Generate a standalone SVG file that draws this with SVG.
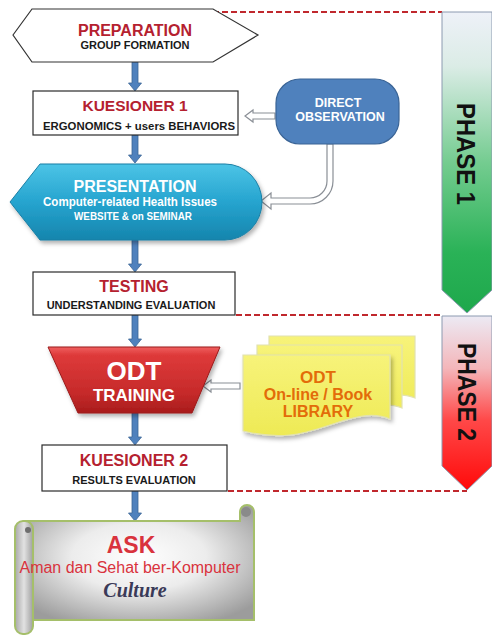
<svg xmlns="http://www.w3.org/2000/svg" width="492" height="637" viewBox="0 0 492 637">
<defs>
<style>
text{font-family:"Liberation Sans",Arial,sans-serif;font-weight:bold;text-anchor:middle}
.box{fill:#fff;stroke:#2b2b2b;stroke-width:1.2}
.red{fill:#b5212f}
.blk{fill:#1a1a1a}
.wht{fill:#fff}
.org{fill:#e36c09}
.barrow{fill:#4f81bd;stroke:#3a6496;stroke-width:0.8}
.harrow{fill:#fff;stroke:#8a8f96;stroke-width:1.2}
.dash{stroke:#c0282d;stroke-width:2;stroke-dasharray:6 3;fill:none}
.doc{fill:url(#gYel);stroke:#e2e2b0;stroke-width:1.2}
.phase{font-size:25px;fill:#111}
</style>
<linearGradient id="gP1" x1="0" y1="0" x2="0" y2="1">
<stop offset="0" stop-color="#eef1f8"/><stop offset="0.18" stop-color="#dbece6"/><stop offset="0.5" stop-color="#74cc90"/><stop offset="0.8" stop-color="#2ab257"/><stop offset="1" stop-color="#1ea84c"/>
</linearGradient>
<linearGradient id="gP2" x1="0" y1="0" x2="0" y2="1">
<stop offset="0" stop-color="#eceaf4"/><stop offset="0.3" stop-color="#f4b6ba"/><stop offset="0.6" stop-color="#ff4848"/><stop offset="1" stop-color="#ff0a0a"/>
</linearGradient>
<linearGradient id="gTeal" x1="0" y1="0" x2="0" y2="1">
<stop offset="0" stop-color="#4cc4e6"/><stop offset="0.5" stop-color="#26a4cf"/><stop offset="1" stop-color="#1585ad"/>
</linearGradient>
<linearGradient id="gRed" x1="0" y1="0" x2="0" y2="1">
<stop offset="0" stop-color="#f06060"/><stop offset="0.12" stop-color="#de3a3a"/><stop offset="0.7" stop-color="#c62a2a"/><stop offset="1" stop-color="#a81c1c"/>
</linearGradient>
<linearGradient id="gYel" x1="0" y1="0" x2="0" y2="1">
<stop offset="0" stop-color="#f7f37a"/><stop offset="1" stop-color="#eeea55"/>
</linearGradient>
<radialGradient id="gScroll" cx="0.5" cy="0.45" r="0.65">
<stop offset="0" stop-color="#ffffff"/><stop offset="0.45" stop-color="#ececec"/><stop offset="1" stop-color="#9c9c9c"/>
</radialGradient>
<linearGradient id="gRoll" x1="0" y1="0" x2="1" y2="0">
<stop offset="0" stop-color="#a8a8a8"/><stop offset="0.5" stop-color="#e2e2e2"/><stop offset="1" stop-color="#a0a0a0"/>
</linearGradient>
<filter id="sh" x="-10%" y="-10%" width="130%" height="130%">
<feDropShadow dx="2" dy="3" stdDeviation="2" flood-color="#000" flood-opacity="0.3"/>
</filter>
</defs>

<g id="dashes">
<line class="dash" x1="213" y1="12" x2="442" y2="12"/>
<line class="dash" x1="236" y1="315" x2="442" y2="315"/>
<line class="dash" x1="228" y1="491" x2="467" y2="491"/>
</g>

<g id="phase1">
<path d="M442,12 H492 V290 L467,313 L442,290 Z" fill="url(#gP1)" stroke="#8c9ab0" stroke-width="1"/>
<text class="phase" transform="translate(466,154) rotate(90)" dy="9" textLength="102" lengthAdjust="spacingAndGlyphs">PHASE 1</text>
</g>
<g id="phase2">
<path d="M442,316 H492 V466 L467,490 L442,466 Z" fill="url(#gP2)" stroke="#8c9ab0" stroke-width="1"/>
<text class="phase" transform="translate(467,392) rotate(90)" dy="9" textLength="98" lengthAdjust="spacingAndGlyphs">PHASE 2</text>
</g>

<g id="connectors">
<path class="barrow" d="M132,62 H138 V83 H141.5 L135,91 L128.5,83 H132 Z"/>
<path class="barrow" d="M132,135 H138 V155 H141.5 L135,163 L128.5,155 H132 Z"/>
<path class="barrow" d="M132,240 H138 V264 H141.5 L135,272 L128.5,264 H132 Z"/>
<path class="barrow" d="M132,315 H138 V339 H141.5 L135,347 L128.5,339 H132 Z"/>
<path class="barrow" d="M132,413 H138 V437 H141.5 L135,445 L128.5,437 H132 Z"/>
<path class="barrow" d="M132,491 H138 V513 H141.5 L135,521 L128.5,513 H132 Z"/>
<path class="harrow" d="M275,113 H253 V110 L245,116 L253,122 V119 H275 Z"/>
<path class="harrow" d="M333,144 V181 A23,23 0 0 1 310,204 H271 V209 L261,201 L271,193 V198 H310 A17,17 0 0 0 327,181 V144 Z"/>
<path class="harrow" d="M240,383 H211 V380 L203,386 L211,392 V389 H240 Z"/>
</g>

<g id="preparation">
<path d="M13,35 L32,9 H213 L258,35 L213,62 H32 Z" fill="#fff" stroke="#333" stroke-width="1.2"/>
<text class="red" x="135" y="36" font-size="16">PREPARATION</text>
<text class="blk" x="135" y="49" font-size="11">GROUP FORMATION</text>
</g>

<g id="kuesioner1">
<rect class="box" x="33" y="91" width="205" height="44"/>
<text class="red" x="135" y="111" font-size="15.5">KUESIONER 1</text>
<text class="blk" x="139" y="130" font-size="11" textLength="192" lengthAdjust="spacingAndGlyphs">ERGONOMICS + users BEHAVIORS</text>
</g>

<g id="direct-observation">
<rect x="276" y="79" width="123" height="65" rx="24" fill="#4f81bd" stroke="#3a6496" stroke-width="1.2"/>
<text class="wht" x="338" y="107" font-size="12.5">DIRECT</text>
<text class="wht" x="340" y="121" font-size="12.5">OBSERVATION</text>
</g>

<g id="presentation">
<path d="M10,202 L40,164 H225 A37,38 0 0 1 225,240 H40 Z" fill="url(#gTeal)" stroke="#1a7fa5" stroke-width="1" filter="url(#sh)"/>
<text class="wht" x="135" y="192" font-size="16">PRESENTATION</text>
<text class="wht" x="130" y="206" font-size="12" textLength="174" lengthAdjust="spacingAndGlyphs">Computer-related Health Issues</text>
<text class="wht" x="133" y="220" font-size="10" textLength="118" lengthAdjust="spacingAndGlyphs">WEBSITE &amp; on SEMINAR</text>
</g>

<g id="testing">
<rect class="box" x="33" y="272" width="202" height="43"/>
<text class="red" x="134" y="292" font-size="16">TESTING</text>
<text class="blk" x="131" y="309" font-size="11">UNDERSTANDING EVALUATION</text>
</g>

<g id="odt-training">
<path d="M48,347 H220 L192,413 H78 Z" fill="url(#gRed)" stroke="#9a1a1a" stroke-width="1" filter="url(#sh)"/>
<text class="wht" x="134" y="380" font-size="26">ODT</text>
<text class="wht" x="134" y="401" font-size="17">TRAINING</text>
</g>

<g id="odt-library">
<path class="doc" d="M269,336 H415 V398 C385,386 350,412 315,414 C295,415 280,412 269,410 Z"/>
<path class="doc" d="M257,345 H402 V408 C372,396 338,422 303,424 C283,425 268,422 257,420 Z"/>
<path class="doc" d="M243,355 H390 V419 C360,406 325,432 290,435 C270,437 255,434 243,431 Z" filter="url(#sh)"/>
<text class="org" x="318" y="383" font-size="17">ODT</text>
<text class="org" x="318" y="400" font-size="16">On-line / Book</text>
<text class="org" x="318" y="417" font-size="16">LIBRARY</text>
</g>

<g id="kuesioner2">
<rect class="box" x="42" y="445" width="185" height="46"/>
<text class="red" x="134" y="466" font-size="16">KUESIONER 2</text>
<text class="blk" x="134" y="484" font-size="11">RESULTS EVALUATION</text>
</g>

<g id="ask">
<path d="M24,521 H240 V512 A7,7 0 0 1 254,512 V620 H24 Z" fill="url(#gScroll)" stroke="#a5bf6a" stroke-width="2"/>
<circle cx="246" cy="512" r="5" fill="#8a8a8a"/>
<rect x="15" y="521" width="18" height="113" rx="8" fill="url(#gRoll)" stroke="#a5bf6a" stroke-width="2"/>
<circle cx="28" cy="530" r="3" fill="#6e6e6e"/>
<text x="131" y="553" font-size="23" fill="#d9333d">ASK</text>
<text x="130" y="573" font-size="16" fill="#d9333d" style="font-weight:normal" textLength="221" lengthAdjust="spacingAndGlyphs">Aman dan Sehat ber-Komputer</text>
<text x="135" y="597" font-size="20" fill="#3a3a58" style="font-family:'Liberation Serif','Times New Roman',serif;font-style:italic">Culture</text>
</g>
</svg>
